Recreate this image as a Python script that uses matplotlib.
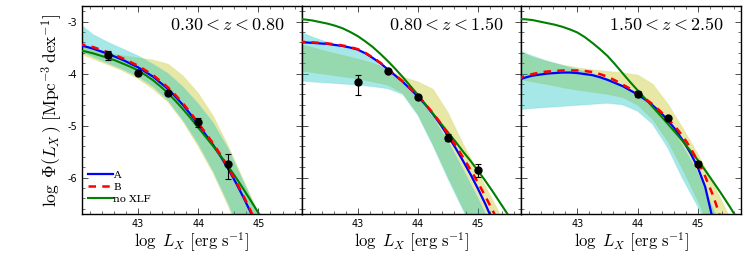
"""X-ray luminosity function in three redshift bins: models A, B, no XLF."""
import matplotlib
matplotlib.use("Agg")
import matplotlib.pyplot as plt
from matplotlib.ticker import AutoMinorLocator, FixedLocator

plt.rcParams["axes.unicode_minus"] = False
plt.rcParams["mathtext.fontset"] = "cm"

# log L_X grid the model curves were read on (0.125 dex steps)
lx = [42.0, 42.125, 42.25, 42.375, 42.5, 42.625, 42.75, 42.875,
      43.0, 43.125, 43.25, 43.375, 43.5, 43.625, 43.75, 43.875,
      44.0, 44.125, 44.25, 44.375, 44.5, 44.625, 44.75, 44.875,
      45.0, 45.125, 45.25, 45.375, 45.5, 45.625, 45.75]

# coarser grid for the uncertainty bands
lxb = [42.07, 42.25, 42.5, 42.75, 43.0, 43.25, 43.5, 43.75, 44.0, 44.25,
       44.5, 44.75, 45.0, 45.25, 45.5, 45.72]

z_labels = ["$0.30 < z < 0.80$", "$0.80 < z < 1.50$", "$1.50 < z < 2.50$"]

# model curves (log Phi)
a1 = [-3.455, -3.48, -3.52, -3.57, -3.62, -3.68, -3.74, -3.81,
      -3.88, -3.97, -4.06, -4.18, -4.30, -4.45, -4.61, -4.79,
      -4.98, -5.18, -5.38, -5.60, -5.84, -6.10, -6.38, -6.68,
      -7.00, -7.35, -7.70, -8.10, -8.50, -8.90, -9.30]
b1 = [-3.43, -3.455, -3.49, -3.54, -3.59, -3.65, -3.71, -3.78,
      -3.85, -3.94, -4.03, -4.15, -4.27, -4.42, -4.58, -4.76,
      -4.95, -5.15, -5.35, -5.57, -5.81, -6.07, -6.35, -6.65,
      -6.97, -7.32, -7.70, -8.10, -8.50, -8.90, -9.30]
g1 = [-3.55, -3.575, -3.61, -3.655, -3.70, -3.75, -3.81, -3.87,
      -3.94, -4.03, -4.13, -4.25, -4.38, -4.53, -4.69, -4.86,
      -5.04, -5.22, -5.40, -5.59, -5.79, -6.00, -6.22, -6.45,
      -6.68, -6.92, -7.17, -7.43, -7.70, -7.98, -8.27]

a2 = [-3.40, -3.40, -3.41, -3.42, -3.43, -3.45, -3.47, -3.50,
      -3.54, -3.61, -3.70, -3.80, -3.92, -4.04, -4.16, -4.30,
      -4.44, -4.60, -4.78, -4.98, -5.20, -5.43, -5.68, -5.94,
      -6.22, -6.52, -6.85, -7.20, -7.60, -8.00, -8.40]
b2 = [-3.39, -3.39, -3.40, -3.41, -3.42, -3.44, -3.46, -3.49,
      -3.53, -3.60, -3.69, -3.79, -3.91, -4.03, -4.15, -4.29,
      -4.43, -4.59, -4.76, -4.95, -5.16, -5.38, -5.61, -5.85,
      -6.10, -6.37, -6.65, -6.95, -7.30, -7.70, -8.10]
g2 = [-2.95, -2.96, -2.98, -3.01, -3.04, -3.08, -3.13, -3.20,
      -3.28, -3.38, -3.49, -3.62, -3.76, -3.91, -4.07, -4.24,
      -4.41, -4.59, -4.77, -4.95, -5.13, -5.31, -5.50, -5.68,
      -5.87, -6.07, -6.28, -6.50, -6.72, -6.95, -7.18]

a3 = [-4.13, -4.08, -4.04, -4.02, -4.00, -3.99, -3.98, -3.98,
      -3.99, -4.01, -4.03, -4.07, -4.12, -4.18, -4.24, -4.32,
      -4.40, -4.50, -4.61, -4.74, -4.89, -5.07, -5.28, -5.52,
      -5.80, -6.18, -6.80, -7.50, -8.20, -8.90, -9.60]
b3 = [-4.11, -4.05, -4.01, -3.98, -3.96, -3.95, -3.94, -3.94,
      -3.94, -3.95, -3.97, -4.01, -4.06, -4.13, -4.21, -4.29,
      -4.38, -4.48, -4.59, -4.72, -4.86, -5.02, -5.20, -5.42,
      -5.68, -5.98, -6.33, -6.75, -7.20, -7.70, -8.20]
g3 = [-2.95, -2.955, -2.97, -3.00, -3.03, -3.06, -3.10, -3.15,
      -3.21, -3.30, -3.41, -3.53, -3.66, -3.82, -3.99, -4.16,
      -4.32, -4.48, -4.64, -4.80, -4.96, -5.13, -5.30, -5.48,
      -5.66, -5.86, -6.07, -6.28, -6.50, -6.73, -6.96]

# uncertainty bands: cyan and yellow
c1_hi = [-3.08, -3.25, -3.40, -3.53, -3.66, -3.82, -4.00, -4.26, -4.58, -4.95,
         -5.45, -6.08, -6.70, -7.3, -7.9, -8.5]
c1_lo = [-3.58, -3.68, -3.80, -3.92, -4.06, -4.25, -4.52, -4.90, -5.35, -5.88,
         -6.50, -7.20, -7.9, -8.6, -9.3, -10.0]
y1_hi = [-3.45, -3.52, -3.60, -3.66, -3.70, -3.74, -3.82, -4.05, -4.38, -4.82,
         -5.40, -6.05, -6.68, -7.3, -7.9, -8.5]
y1_lo = [-3.63, -3.72, -3.83, -3.95, -4.10, -4.30, -4.55, -4.93, -5.40, -5.92,
         -6.55, -7.30, -8.0, -8.7, -9.4, -10.0]

c2_hi = [-3.21, -3.30, -3.40, -3.49, -3.57, -3.73, -3.96, -4.19, -4.46, -4.84,
         -5.30, -5.84, -6.40, -7.0, -7.6, -8.2]
c2_lo = [-4.14, -4.16, -4.18, -4.20, -4.22, -4.25, -4.29, -4.40, -4.80, -5.38,
         -6.02, -6.62, -7.2, -7.8, -8.4, -9.0]
y2_hi = [-3.45, -3.50, -3.58, -3.65, -3.72, -3.80, -3.92, -4.07, -4.16, -4.30,
         -4.75, -5.35, -5.90, -6.45, -7.0, -7.5]
y2_lo = [-3.95, -3.98, -4.02, -4.06, -4.10, -4.16, -4.22, -4.38, -4.78, -5.36,
         -5.98, -6.58, -7.2, -7.8, -8.4, -9.0]

c3_hi = [-3.58, -3.66, -3.76, -3.84, -3.92, -4.00, -4.10, -4.24, -4.42, -4.66,
         -4.97, -5.38, -5.90, -6.58, -7.30, -8.0]
c3_lo = [-4.69, -4.67, -4.65, -4.63, -4.61, -4.59, -4.57, -4.60, -4.72, -4.97,
         -5.42, -6.02, -6.55, -7.20, -7.9, -8.6]
y3_hi = [-3.58, -3.68, -3.76, -3.83, -3.88, -3.92, -3.95, -3.98, -4.02, -4.20,
         -4.58, -5.05, -5.55, -6.10, -6.70, -7.2]
y3_lo = [-4.11, -4.15, -4.20, -4.26, -4.31, -4.35, -4.39, -4.45, -4.60, -4.88,
         -5.30, -5.85, -6.45, -7.10, -7.8, -8.5]

# binned data points
d1_x = [42.5, 43.0, 43.5, 44.0, 44.5]
d1_y = [-3.64, -3.98, -4.37, -4.94, -5.73]
d1_elo = [0.10, 0.03, 0.04, 0.08, 0.29]
d1_ehi = [0.08, 0.03, 0.04, 0.08, 0.18]

d2_x = [43.0, 43.5, 44.0, 44.5, 45.0]
d2_y = [-4.17, -3.95, -4.45, -5.23, -5.86]
d2_elo = [0.24, 0.03, 0.03, 0.06, 0.12]
d2_ehi = [0.14, 0.03, 0.03, 0.06, 0.12]

d3_x = [44.0, 44.5, 45.0]
d3_y = [-4.40, -4.85, -5.73]
d3_elo = [0.06, 0.03, 0.05]
d3_ehi = [0.06, 0.03, 0.05]

panels = [
    (a1, b1, g1, c1_hi, c1_lo, y1_hi, y1_lo, d1_x, d1_y, d1_elo, d1_ehi),
    (a2, b2, g2, c2_hi, c2_lo, y2_hi, y2_lo, d2_x, d2_y, d2_elo, d2_ehi),
    (a3, b3, g3, c3_hi, c3_lo, y3_hi, y3_lo, d3_x, d3_y, d3_elo, d3_ehi),
]

fig, axes = plt.subplots(1, 3, figsize=(7.47, 2.6), dpi=100, sharey=True)
fig.subplots_adjust(left=0.11, right=0.992, bottom=0.177, top=0.977, wspace=0)

for i, (ax, p) in enumerate(zip(axes, panels)):
    a, b, g, c_hi, c_lo, y_hi, y_lo, dx, dy, elo, ehi = p
    ax.fill_between(lxb, y_lo, y_hi, facecolor="#bfbf00", alpha=0.35,
                    edgecolor="#d8d870", linewidth=0.8, zorder=1)
    ax.fill_between(lxb, c_lo, c_hi, facecolor="#00bfbf", alpha=0.35,
                    edgecolor="#70d8d8", linewidth=0.8, zorder=2)
    ax.plot(lx, a, color="blue", lw=1.6, label="A", zorder=3)
    ax.plot(lx, b, color="red", lw=1.8, ls=(0, (3, 2.5)), label="B", zorder=4)
    ax.plot(lx, g, color="green", lw=1.5, label="no XLF", zorder=3)
    ax.errorbar(dx, dy, yerr=[elo, ehi], fmt="o", color="black", ms=5,
                capsize=2, elinewidth=0.8, capthick=0.8, zorder=5)

    ax.set_xlim(42.07, 45.72)
    ax.set_ylim(-6.7, -2.7)
    ax.xaxis.set_major_locator(FixedLocator([43, 44, 45]))
    ax.yaxis.set_major_locator(FixedLocator([-6, -5, -4, -3]))
    ax.xaxis.set_minor_locator(AutoMinorLocator(5))
    ax.yaxis.set_minor_locator(AutoMinorLocator(5))
    ax.tick_params(which="both", direction="in", top=True, right=True,
                   labelsize=7, colors="#333333", labelcolor="black")
    ax.tick_params(which="major", length=4, width=0.6)
    ax.tick_params(which="minor", length=2, width=0.5)
    for sp in ax.spines.values():
        sp.set_linewidth(1.0)
    ax.set_xlabel(r"$\log\ L_X\ [\mathrm{erg\ s^{-1}}]$", fontsize=12, labelpad=1)
    ax.text(0.66, 0.91, z_labels[i], transform=ax.transAxes,
            ha="center", va="center", fontsize=13)

axes[0].set_ylabel(r"$\log\ \Phi(L_X\,)\ [\mathrm{Mpc^{-3}\,dex^{-1}}]$",
                   fontsize=12.5, labelpad=2)
axes[0].legend(loc="lower left", bbox_to_anchor=(0.0, 0.02), frameon=False,
               handlelength=2.4, handletextpad=0.0, labelspacing=0.25,
               borderaxespad=0.2, prop={"family": "serif", "size": 7.5})

fig.savefig("out.png", dpi=100)
